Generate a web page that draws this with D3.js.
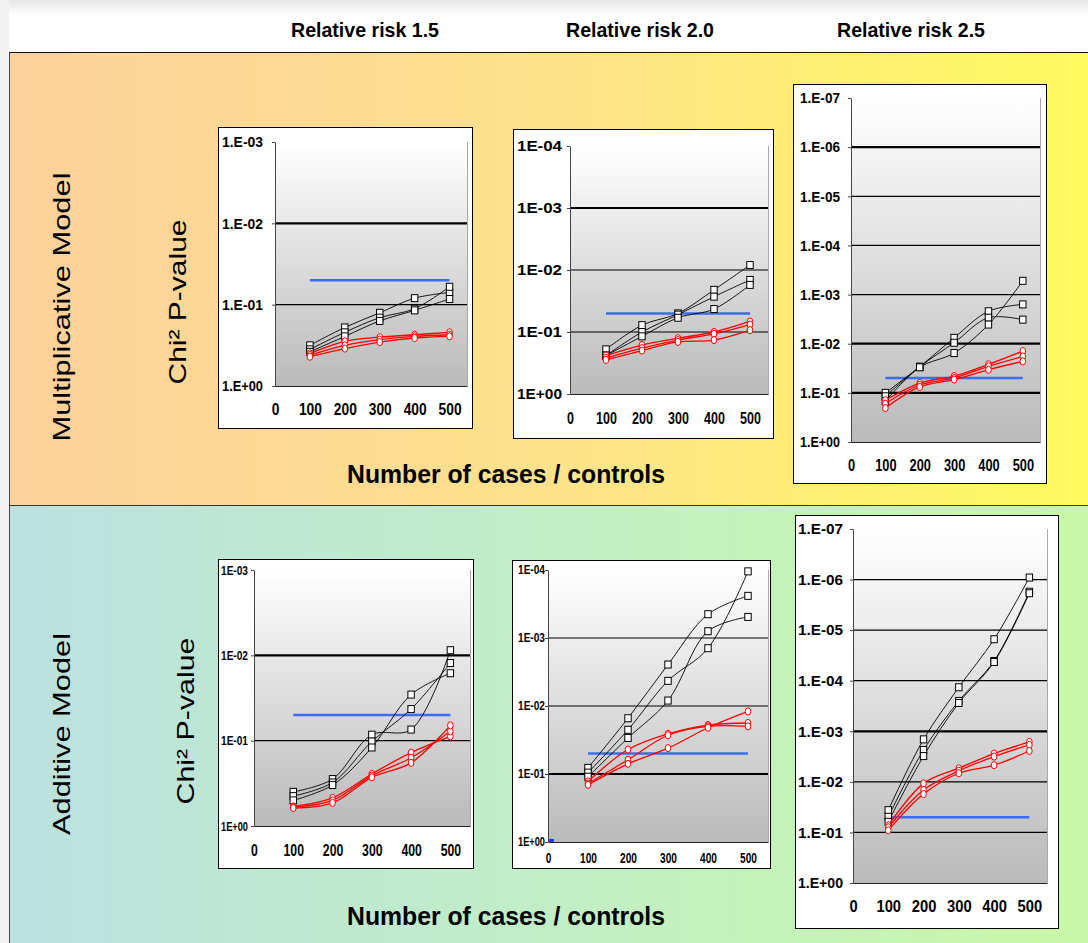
<!DOCTYPE html>
<html>
<head>
<meta charset="utf-8">
<script src="https://cdn.jsdelivr.net/npm/d3@7"></script>
<style>
  html, body { margin: 0; padding: 0; background: #fff; }
  svg { display: block; font-family: "Liberation Sans", Arial, sans-serif; }
</style>
</head>
<body>
<div id="chart"></div>
<script>
// x positions (cases / controls) and axis ticks
const xValues = [100, 200, 300, 400, 500];
const xTicks = [0, 100, 200, 300, 400, 500];

const colTitles = ["Relative risk 1.5", "Relative risk 2.0", "Relative risk 2.5"];
const rowTitles = ["Multiplicative Model", "Additive Model"];
const yTitle = "Chi\u00b2 P-value";
const xTitle = "Number of cases / controls";

// blue significance line (-log10 of 0.05) from x=100 to x=500
const sigX = [100, 500];
const sigLevel = [1.3, 1.3];

// all values are -log10(p)
const multBlack15 = [[0.50, 0.72, 0.90, 1.08, 1.15], [0.45, 0.66, 0.84, 0.95, 1.22], [0.42, 0.61, 0.80, 0.93, 1.07]];
const multRed15   = [[0.40, 0.55, 0.60, 0.63, 0.66], [0.38, 0.50, 0.57, 0.61, 0.63], [0.36, 0.46, 0.54, 0.59, 0.61]];
const multBlack20 = [[0.72, 1.11, 1.30, 1.68, 2.08], [0.62, 1.00, 1.28, 1.57, 1.84], [0.62, 0.93, 1.23, 1.37, 1.76]];
const multRed20   = [[0.62, 0.79, 0.90, 1.00, 1.17], [0.58, 0.74, 0.87, 0.97, 1.12], [0.55, 0.70, 0.84, 0.87, 1.03]];
const multBlack25 = [[1.00, 1.53, 2.12, 2.66, 2.80], [0.93, 1.53, 2.02, 2.53, 2.49], [0.83, 1.52, 1.81, 2.39, 3.28]];
const multRed25   = [[0.85, 1.20, 1.34, 1.58, 1.85], [0.78, 1.16, 1.30, 1.54, 1.74], [0.69, 1.12, 1.27, 1.47, 1.64]];

const addBlack15 = [[0.40, 0.55, 1.07, 1.13, 2.06], [0.35, 0.51, 0.99, 1.37, 1.91], [0.30, 0.48, 0.92, 1.54, 1.79]];
const addRed15   = [[0.23, 0.33, 0.61, 0.86, 1.05], [0.22, 0.30, 0.59, 0.80, 1.11], [0.21, 0.27, 0.57, 0.74, 1.18]];
const addBlack20 = [[1.09, 1.82, 2.61, 3.35, 3.62], [1.02, 1.65, 2.37, 2.85, 3.98], [0.96, 1.53, 2.08, 3.10, 3.31]];
const addRed20   = [[0.89, 1.36, 1.59, 1.72, 1.75], [0.86, 1.21, 1.57, 1.70, 1.70], [0.84, 1.15, 1.38, 1.68, 1.92]];
const addBlack25 = [[1.44, 2.84, 3.87, 4.82, 6.04], [1.31, 2.63, 3.60, 4.39, 5.76], [1.21, 2.51, 3.56, 4.37, 5.73]];
const addRed25   = [[1.14, 1.97, 2.27, 2.56, 2.79], [1.10, 1.84, 2.22, 2.50, 2.73], [1.04, 1.76, 2.17, 2.33, 2.61]];

// stray blue point at the origin of the additive RR 2.0 panel
const strayA20 = [[0, 0]];

// y tick labels, bottom to top
const yLabelsM15 = ["1.E+00", "1.E-01", "1.E-02", "1.E-03"];
const yLabelsM20 = ["1E+00", "1E-01", "1E-02", "1E-03", "1E-04"];
const yLabelsM25 = ["1.E+00", "1.E-01", "1.E-02", "1.E-03", "1.E-04", "1.E-05", "1.E-06", "1.E-07"];
const yLabelsA15 = ["1E+00", "1E-01", "1E-02", "1E-03"];
const yLabelsA20 = ["1E+00", "1E-01", "1E-02", "1E-03", "1E-04"];
const yLabelsA25 = ["1.E+00", "1.E-01", "1.E-02", "1.E-03", "1.E-04", "1.E-05", "1.E-06", "1.E-07"];

const W = 1088, H = 943;
const svg = d3.select('#chart').append('svg')
  .attr('width', W)
  .attr('height', H);
const defs = svg.append('defs');

function gradient(id, stops, vertical) {
  const g = defs.append('linearGradient').attr('id', id)
    .attr('x1', 0).attr('y1', 0)
    .attr('x2', vertical ? 0 : 1).attr('y2', vertical ? 1 : 0);
  stops.forEach(s => g.append('stop').attr('offset', s[0]).attr('stop-color', s[1]));
}
gradient('topBand', [[0, '#fdd19c'], [0.5, '#fde28b'], [1, '#fefb5f']], false);
gradient('botBand', [[0, '#bbe1e0'], [0.5, '#c2eec6'], [1, '#c9f8a7']], false);
gradient('plotBg', [[0, '#ffffff'], [1, '#bababa']], true);
gradient('topStrip', [[0, '#e6e6e6'], [1, '#ffffff']], true);

// page backgrounds
svg.append('rect').attr('x', 0).attr('y', 0).attr('width', W).attr('height', 16).attr('fill', 'url(#topStrip)');
svg.append('rect').attr('x', 0).attr('y', 0).attr('width', 9).attr('height', H).attr('fill', '#f1f1f1');
svg.append('rect').attr('x', 9).attr('y', 52).attr('width', W - 9).attr('height', 453).attr('fill', 'url(#topBand)');
svg.append('rect').attr('x', 9).attr('y', 505).attr('width', W - 9).attr('height', H - 505).attr('fill', 'url(#botBand)');
svg.append('line').attr('x1', 9).attr('x2', W).attr('y1', 52.5).attr('y2', 52.5).attr('stroke', '#111');
svg.append('line').attr('x1', 9).attr('x2', W).attr('y1', 505.5).attr('y2', 505.5).attr('stroke', '#333');
svg.append('line').attr('x1', 9.5).attr('x2', 9.5).attr('y1', 52).attr('y2', H).attr('stroke', '#444');

// titles
const colCenters = [365, 640, 911];
colTitles.forEach((t, i) => {
  svg.append('text')
    .attr('x', colCenters[i]).attr('y', 37)
    .attr('text-anchor', 'middle')
    .attr('font-size', 21).attr('font-weight', 'bold')
    .attr('textLength', 148).attr('lengthAdjust', 'spacingAndGlyphs')
    .text(t);
});

[483, 925].forEach(yy => {
  svg.append('text')
    .attr('x', 506).attr('y', yy)
    .attr('text-anchor', 'middle')
    .attr('font-size', 25).attr('font-weight', 'bold')
    .attr('textLength', 318).attr('lengthAdjust', 'spacingAndGlyphs')
    .text(xTitle);
});

function vText(txt, cx, cy, len) {
  svg.append('text')
    .attr('transform', 'translate(' + cx + ',' + cy + ') rotate(-90)')
    .attr('text-anchor', 'middle')
    .attr('dominant-baseline', 'central')
    .attr('font-size', 24)
    .attr('textLength', len).attr('lengthAdjust', 'spacingAndGlyphs')
    .text(txt);
}
vText(rowTitles[0], 61, 307, 269);
vText(yTitle, 177, 302, 165);
vText(rowTitles[1], 61, 734, 202);
vText(yTitle, 185, 721, 167);

const panels = [
  { black: multBlack15, red: multRed15, yLabels: yLabelsM15, box: [218, 127, 254, 301], plot: [275, 142, 467, 386],
    thick: [2], yFont: 15, yWidth: 41, yPad: 9, xFont: 16, xSqueeze: 0.86, xPad: 18 },
  { black: multBlack20, red: multRed20, yLabels: yLabelsM20, box: [513, 129, 260, 309], plot: [570, 146, 768, 394],
    thick: [3], yFont: 15, yWidth: 45, yPad: 5, xFont: 16, xSqueeze: 0.78, xPad: 19 },
  { black: multBlack25, red: multRed25, yLabels: yLabelsM25, box: [793, 84, 253, 399], plot: [851, 98, 1040, 442],
    thick: [1, 2, 6], yFont: 15, yWidth: 40, yPad: 8, xFont: 16, xSqueeze: 0.8, xPad: 18 },
  { black: addBlack15, red: addRed15, yLabels: yLabelsA15, box: [218, 559, 255, 309], plot: [254, 570, 470, 826],
    thick: [2], yFont: 13, yWidth: 27, yPad: 3, xFont: 17, xSqueeze: 0.72, xPad: 18 },
  { black: addBlack20, red: addRed20, yLabels: yLabelsA20, box: [512, 560, 258, 308], plot: [548, 570, 768, 842],
    thick: [1], yFont: 12, yWidth: 27, yPad: 0, xFont: 14, xSqueeze: 0.72, xPad: 11, stray: strayA20 },
  { black: addBlack25, red: addRed25, yLabels: yLabelsA25, box: [795, 515, 263, 413], plot: [853, 529, 1047, 883],
    thick: [3], yFont: 15, yWidth: 45, yPad: 7, xFont: 16, xSqueeze: 0.92, xPad: 18 }
];

panels.forEach(p => {
  const [bx, by, bw, bh] = p.box;
  const [l, t, r, b] = p.plot;
  const g = svg.append('g');

  g.append('rect')
    .attr('x', bx + 0.5).attr('y', by + 0.5)
    .attr('width', bw).attr('height', bh)
    .attr('fill', '#fff').attr('stroke', '#000');

  const n = p.yLabels.length - 1;
  const x = d3.scaleLinear().domain([0, 550]).range([l, r]);
  const y = d3.scaleLinear().domain([0, n]).range([b, t]);

  g.append('rect')
    .attr('x', l).attr('y', t)
    .attr('width', r - l).attr('height', b - t)
    .attr('fill', 'url(#plotBg)');
  g.append('line')
    .attr('x1', r + 0.5).attr('x2', r + 0.5).attr('y1', t).attr('y2', b)
    .attr('stroke', '#a8a8a8');

  // gridlines
  d3.range(1, n).forEach(v => {
    g.append('line')
      .attr('x1', l).attr('x2', r)
      .attr('y1', y(v)).attr('y2', y(v))
      .attr('stroke', '#000')
      .attr('stroke-width', p.thick.includes(v) ? 2.2 : 1.2);
  });

  // y axis
  const ya = g.append('g')
    .attr('transform', 'translate(' + l + ',0)')
    .call(d3.axisLeft(y)
      .tickValues(d3.range(n + 1))
      .tickFormat(i => p.yLabels[i])
      .tickSize(3).tickSizeOuter(0)
      .tickPadding(p.yPad));
  ya.select('.domain').attr('stroke', '#444');
  ya.selectAll('.tick line').attr('stroke', '#444');
  ya.selectAll('text')
    .attr('font-size', p.yFont).attr('font-weight', 'bold')
    .attr('font-family', '"Liberation Sans", Arial, sans-serif')
    .attr('fill', '#000')
    .attr('textLength', p.yWidth).attr('lengthAdjust', 'spacingAndGlyphs');

  // x axis
  const xa = g.append('g')
    .attr('transform', 'translate(0,' + b + ')')
    .call(d3.axisBottom(x)
      .tickValues(xTicks)
      .tickSize(0).tickSizeOuter(0)
      .tickPadding(p.xPad));
  xa.select('.domain').attr('stroke', '#222').attr('stroke-width', 1.2);
  xa.selectAll('text')
    .attr('font-size', p.xFont).attr('font-weight', 'bold')
    .attr('font-family', '"Liberation Sans", Arial, sans-serif')
    .attr('fill', '#000')
    .each(function () {
      const w = this.getComputedTextLength();
      d3.select(this).attr('textLength', w * p.xSqueeze).attr('lengthAdjust', 'spacingAndGlyphs');
    });

  // significance line
  g.append('path')
    .datum(sigLevel)
    .attr('fill', 'none')
    .attr('stroke', '#3b6cf5')
    .attr('stroke-width', 2.5)
    .attr('d', d3.line().x((d, i) => x(sigX[i])).y(d => y(d)));

  if (p.stray) {
    g.selectAll('.stray').data(p.stray).enter().append('rect')
      .attr('x', d => x(d[0]) + 1).attr('y', d => y(d[1]) - 3)
      .attr('width', 5).attr('height', 3)
      .attr('fill', '#2040ff');
  }

  const line = d3.line()
    .x((d, i) => x(xValues[i]))
    .y(d => y(d))
    .curve(d3.curveCatmullRom.alpha(0.5));

  // black series with square markers
  p.black.forEach(s => {
    g.append('path').datum(s)
      .attr('fill', 'none').attr('stroke', '#000').attr('stroke-width', 0.9)
      .attr('d', line);
  });
  p.black.forEach(s => {
    g.selectAll(null).data(s).enter().append('rect')
      .attr('x', (d, i) => x(xValues[i]) - 3.2)
      .attr('y', d => y(d) - 3.5)
      .attr('width', 6.4).attr('height', 7)
      .attr('fill', '#fff').attr('stroke', '#000').attr('stroke-width', 1);
  });

  // red series with circle markers
  p.red.forEach(s => {
    g.append('path').datum(s)
      .attr('fill', 'none').attr('stroke', '#ff0000').attr('stroke-width', 1.3)
      .attr('d', line);
  });
  p.red.forEach(s => {
    g.selectAll(null).data(s).enter().append('ellipse')
      .attr('cx', (d, i) => x(xValues[i]))
      .attr('cy', d => y(d))
      .attr('rx', 2.8).attr('ry', 3.6)
      .attr('fill', '#fff').attr('stroke', '#ff0000').attr('stroke-width', 1);
  });
});
</script>
</body>
</html>
